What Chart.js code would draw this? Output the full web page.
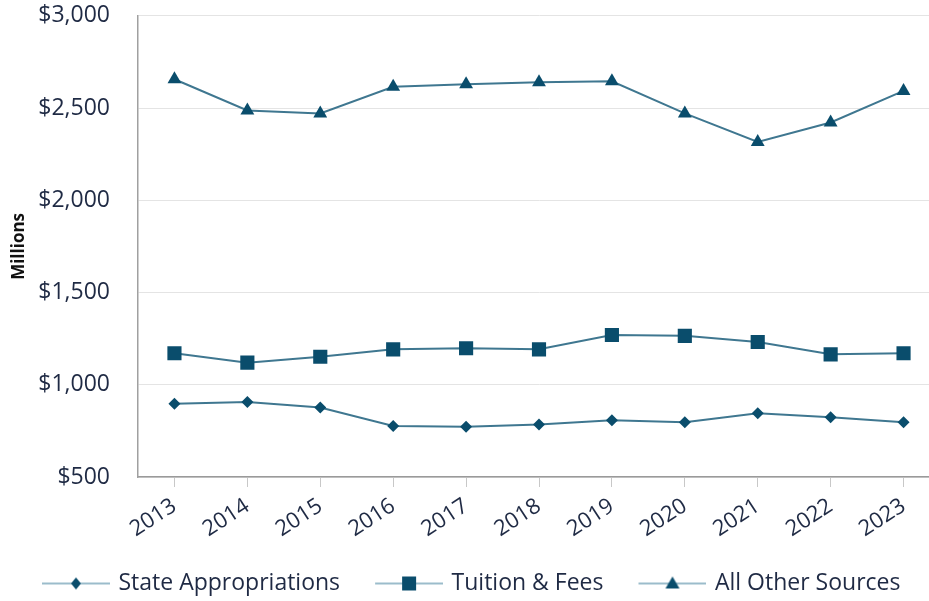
<!DOCTYPE html>
<html>
<head>
<meta charset="utf-8">
<script src="https://cdn.jsdelivr.net/npm/chart.js@4.4.0/dist/chart.umd.min.js"></script>
<style>
html,body{margin:0;padding:0;background:#fff;overflow:hidden;}
#wrap{position:relative;width:945px;height:605px;}
</style>
</head>
<body>
<div id="wrap"><canvas id="revenueChart"></canvas></div>
<script>
const years = ["2013","2014","2015","2016","2017","2018","2019","2020","2021","2022","2023"];
const stateAppropriations = [897,906,877,776,773,785,807,797,845,824,797];
const tuitionFees = [1171,1120,1152,1192,1198,1192,1270,1265,1232,1165,1171];
const allOtherSources = [2656,2487,2471,2615,2629,2640,2645,2471,2316,2422,2593];
const yTicks = [500,1000,1500,2000,2500,3000];

const markerColor = "#0a4d6c";
const lineColor = "#3f7790";
const textColor = "#1f2a44";

// legend icon: blank gap, short line, marker in the middle
function legendIcon(style){
const c = document.createElement("canvas");
c.width = 105; c.height = 20;
const ctx = c.getContext("2d");
ctx.strokeStyle = "#7aa6ba";
ctx.lineWidth = 1.5;
ctx.beginPath(); ctx.moveTo(37,10); ctx.lineTo(105,10); ctx.stroke();
ctx.fillStyle = markerColor;
ctx.beginPath();
const cx = 71, cy = 10;
if(style === "rectRot"){
ctx.moveTo(cx,cy-6); ctx.lineTo(cx+5,cy); ctx.lineTo(cx,cy+6); ctx.lineTo(cx-5,cy);
} else if(style === "rect"){
ctx.rect(cx-7,cy-7,14,14);
} else {
ctx.moveTo(cx,cy-7); ctx.lineTo(cx+7,cy+5); ctx.lineTo(cx-7,cy+5);
}
ctx.closePath(); ctx.fill();
return c;
}

function makeSet(label, data, style, radius){
return {
label: label,
data: data,
borderColor: lineColor,
borderWidth: 2,
backgroundColor: markerColor,
pointBackgroundColor: markerColor,
pointBorderColor: markerColor,
pointBorderWidth: 0,
pointStyle: style,
pointRadius: radius,
pointHoverRadius: radius,
tension: 0,
fill: false
};
}

const font = "'Open Sans', sans-serif";

new Chart(document.getElementById("revenueChart"),{
type: "line",
data: {
labels: years,
datasets: [
makeSet("State Appropriations", stateAppropriations, "rectRot", 6),
makeSet("Tuition & Fees", tuitionFees, "rect", 10),
makeSet("All Other Sources", allOtherSources, "triangle", 8)
]
},
options: {
responsive: true,
maintainAspectRatio: false,
animation: false,
layout: { autoPadding: false, padding: { top: 4, right: 5, bottom: 0, left: 7 } },
plugins: {
tooltip: { enabled: false },
legend: {
position: "bottom",
align: "start",
labels: {
usePointStyle: true,
pointStyleWidth: 99,
padding: 1,
color: textColor,
font: { family: font, size: 23 },
generateLabels: function(chart){
return chart.data.datasets.map(function(ds, i){
return {
text: ds.label,
pointStyle: legendIcon(ds.pointStyle),
fillStyle: markerColor,
strokeStyle: markerColor,
lineWidth: 0,
fontColor: textColor,
hidden: false,
datasetIndex: i
};
});
}
}
}
},
scales: {
x: {
offset: true,
grid: { drawOnChartArea: false, drawTicks: true, tickLength: 10, color: "#c8c8c8" },
border: { color: "#9a9a9a", width: 1.5 },
ticks: { minRotation: 33, maxRotation: 33, padding: 6, color: textColor, font: { family: font, size: 22 } },
afterFit: function(s){ s.height = 94; }
},
y: {
min: 500,
max: 3000,
afterBuildTicks: function(axis){ axis.ticks = yTicks.map(function(v){ return { value: v }; }); },
grid: { color: "#e4e4e4", drawTicks: true, tickLength: 26, tickColor: "rgba(0,0,0,0)" },
border: { color: "#a0a0a0", width: 1.5 },
ticks: {
padding: 2,
color: textColor,
font: { family: font, size: 23 },
callback: function(v){ return "$" + v.toLocaleString("en-US"); }
},
title: { display: true, text: "Millions", color: "#111", font: { family: font, size: 17, weight: "bold" }, padding: { top: 2, bottom: 0 } },
afterFit: function(s){ s.width = 131; }
}
}
}
});
</script>
</body>
</html>
